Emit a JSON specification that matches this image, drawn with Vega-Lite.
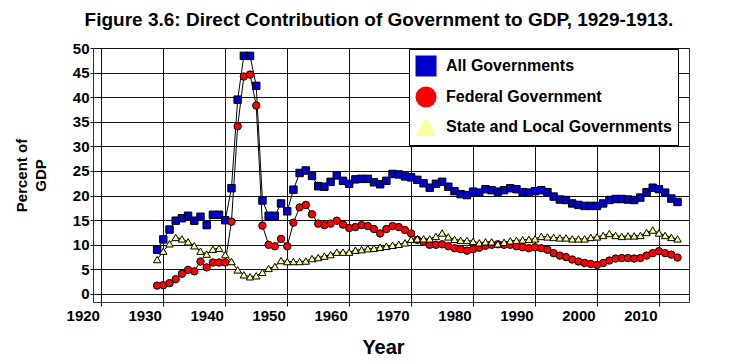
{
  "$schema": "https://vega.github.io/schema/vega-lite/v6.json",
  "width": 596,
  "height": 254,
  "autosize": {"type": "none"},
  "padding": {"left": 93, "top": 48, "right": 41, "bottom": 61},
  "background": "white",
  "title": {
    "text": "Figure 3.6: Direct Contribution of Government to GDP, 1929-1913.",
    "font": "Liberation Sans",
    "fontSize": 19,
    "fontWeight": "bold",
    "color": "black",
    "anchor": "middle",
    "baseline": "alphabetic",
    "offset": 14,
    "dx": -12,
    "dy": 18
  },
  "data": {
    "values": [
      {"year": 1929, "all": 9.0, "federal": 1.7, "stateLocal": 7.0},
      {"year": 1930, "all": 11.1, "federal": 1.8, "stateLocal": 8.7},
      {"year": 1931, "all": 13.1, "federal": 2.2, "stateLocal": 10.2},
      {"year": 1932, "all": 14.9, "federal": 3.0, "stateLocal": 11.5},
      {"year": 1933, "all": 15.4, "federal": 4.1, "stateLocal": 11.2},
      {"year": 1934, "all": 15.9, "federal": 4.9, "stateLocal": 10.6},
      {"year": 1935, "all": 14.9, "federal": 4.6, "stateLocal": 9.8},
      {"year": 1936, "all": 15.7, "federal": 6.6, "stateLocal": 8.7},
      {"year": 1937, "all": 14.0, "federal": 5.4, "stateLocal": 8.1},
      {"year": 1938, "all": 16.1, "federal": 6.4, "stateLocal": 9.1},
      {"year": 1939, "all": 16.1, "federal": 6.4, "stateLocal": 9.3},
      {"year": 1940, "all": 15.0, "federal": 6.4, "stateLocal": 8.0},
      {"year": 1941, "all": 21.5, "federal": 14.7, "stateLocal": 6.6},
      {"year": 1942, "all": 39.5, "federal": 34.1, "stateLocal": 4.9},
      {"year": 1943, "all": 48.4, "federal": 44.2, "stateLocal": 3.9},
      {"year": 1944, "all": 48.4, "federal": 44.6, "stateLocal": 3.5},
      {"year": 1945, "all": 42.3, "federal": 38.3, "stateLocal": 3.7},
      {"year": 1946, "all": 19.0, "federal": 13.9, "stateLocal": 4.4},
      {"year": 1947, "all": 15.9, "federal": 10.0, "stateLocal": 5.2},
      {"year": 1948, "all": 15.9, "federal": 9.7, "stateLocal": 5.6},
      {"year": 1949, "all": 18.4, "federal": 11.2, "stateLocal": 6.8},
      {"year": 1950, "all": 16.8, "federal": 9.7, "stateLocal": 6.6},
      {"year": 1951, "all": 21.2, "federal": 14.5, "stateLocal": 6.6},
      {"year": 1952, "all": 24.6, "federal": 17.6, "stateLocal": 6.6},
      {"year": 1953, "all": 25.1, "federal": 18.1, "stateLocal": 6.7},
      {"year": 1954, "all": 24.0, "federal": 16.2, "stateLocal": 7.2},
      {"year": 1955, "all": 21.9, "federal": 14.3, "stateLocal": 7.4},
      {"year": 1956, "all": 21.8, "federal": 14.0, "stateLocal": 7.7},
      {"year": 1957, "all": 22.8, "federal": 14.3, "stateLocal": 8.0},
      {"year": 1958, "all": 24.1, "federal": 14.9, "stateLocal": 8.5},
      {"year": 1959, "all": 23.0, "federal": 14.1, "stateLocal": 8.5},
      {"year": 1960, "all": 22.4, "federal": 13.4, "stateLocal": 8.5},
      {"year": 1961, "all": 23.3, "federal": 13.6, "stateLocal": 8.9},
      {"year": 1962, "all": 23.4, "federal": 14.0, "stateLocal": 9.0},
      {"year": 1963, "all": 23.4, "federal": 13.8, "stateLocal": 9.2},
      {"year": 1964, "all": 22.7, "federal": 13.2, "stateLocal": 9.3},
      {"year": 1965, "all": 22.3, "federal": 12.3, "stateLocal": 9.5},
      {"year": 1966, "all": 23.0, "federal": 13.2, "stateLocal": 9.7},
      {"year": 1967, "all": 24.4, "federal": 13.8, "stateLocal": 9.9},
      {"year": 1968, "all": 24.3, "federal": 13.6, "stateLocal": 10.1},
      {"year": 1969, "all": 23.9, "federal": 13.0, "stateLocal": 10.4},
      {"year": 1970, "all": 23.7, "federal": 12.3, "stateLocal": 11.1},
      {"year": 1971, "all": 23.2, "federal": 11.0, "stateLocal": 11.2},
      {"year": 1972, "all": 22.5, "federal": 10.6, "stateLocal": 11.2},
      {"year": 1973, "all": 21.6, "federal": 10.0, "stateLocal": 11.2},
      {"year": 1974, "all": 22.4, "federal": 10.0, "stateLocal": 11.7},
      {"year": 1975, "all": 22.8, "federal": 10.1, "stateLocal": 12.4},
      {"year": 1976, "all": 21.8, "federal": 9.7, "stateLocal": 11.6},
      {"year": 1977, "all": 20.9, "federal": 9.3, "stateLocal": 11.1},
      {"year": 1978, "all": 20.3, "federal": 9.1, "stateLocal": 10.9},
      {"year": 1979, "all": 20.1, "federal": 8.8, "stateLocal": 10.9},
      {"year": 1980, "all": 20.8, "federal": 9.1, "stateLocal": 10.7},
      {"year": 1981, "all": 20.6, "federal": 9.4, "stateLocal": 10.4},
      {"year": 1982, "all": 21.3, "federal": 9.8, "stateLocal": 10.6},
      {"year": 1983, "all": 21.1, "federal": 10.0, "stateLocal": 10.6},
      {"year": 1984, "all": 20.8, "federal": 10.1, "stateLocal": 10.2},
      {"year": 1985, "all": 21.1, "federal": 10.0, "stateLocal": 10.5},
      {"year": 1986, "all": 21.5, "federal": 10.0, "stateLocal": 10.8},
      {"year": 1987, "all": 21.3, "federal": 9.7, "stateLocal": 10.9},
      {"year": 1988, "all": 20.7, "federal": 9.5, "stateLocal": 11.0},
      {"year": 1989, "all": 20.6, "federal": 9.3, "stateLocal": 11.1},
      {"year": 1990, "all": 20.9, "federal": 9.5, "stateLocal": 11.2},
      {"year": 1991, "all": 21.1, "federal": 9.3, "stateLocal": 11.7},
      {"year": 1992, "all": 20.7, "federal": 9.0, "stateLocal": 11.6},
      {"year": 1993, "all": 19.8, "federal": 8.3, "stateLocal": 11.5},
      {"year": 1994, "all": 19.2, "federal": 7.8, "stateLocal": 11.4},
      {"year": 1995, "all": 19.1, "federal": 7.5, "stateLocal": 11.4},
      {"year": 1996, "all": 18.4, "federal": 7.0, "stateLocal": 11.2},
      {"year": 1997, "all": 18.1, "federal": 6.6, "stateLocal": 11.2},
      {"year": 1998, "all": 17.9, "federal": 6.3, "stateLocal": 11.2},
      {"year": 1999, "all": 17.9, "federal": 6.1, "stateLocal": 11.5},
      {"year": 2000, "all": 17.9, "federal": 5.9, "stateLocal": 11.6},
      {"year": 2001, "all": 18.4, "federal": 6.3, "stateLocal": 11.9},
      {"year": 2002, "all": 19.1, "federal": 6.8, "stateLocal": 12.3},
      {"year": 2003, "all": 19.3, "federal": 7.2, "stateLocal": 11.9},
      {"year": 2004, "all": 19.3, "federal": 7.3, "stateLocal": 11.7},
      {"year": 2005, "all": 19.2, "federal": 7.3, "stateLocal": 11.8},
      {"year": 2006, "all": 19.1, "federal": 7.2, "stateLocal": 11.8},
      {"year": 2007, "all": 19.6, "federal": 7.3, "stateLocal": 11.9},
      {"year": 2008, "all": 20.7, "federal": 7.8, "stateLocal": 12.5},
      {"year": 2009, "all": 21.6, "federal": 8.3, "stateLocal": 13.0},
      {"year": 2010, "all": 21.3, "federal": 8.7, "stateLocal": 12.4},
      {"year": 2011, "all": 20.6, "federal": 8.3, "stateLocal": 11.9},
      {"year": 2012, "all": 19.4, "federal": 8.0, "stateLocal": 11.5},
      {"year": 2013, "all": 18.7, "federal": 7.4, "stateLocal": 11.2}
    ]
  },
  "transform": [{"fold": ["all", "federal", "stateLocal"], "as": ["series", "value"]}],
  "encoding": {
    "x": {
      "field": "year",
      "type": "quantitative",
      "scale": {"domain": [1918.65, 2014.85], "nice": false, "zero": false},
      "axis": {
        "values": [1920, 1930, 1940, 1950, 1960, 1970, 1980, 1990, 2000, 2010],
        "format": "d",
        "grid": true,
        "gridColor": "#111111",
        "gridWidth": 1,
        "gridOpacity": 1,
        "domain": false,
        "ticks": true,
        "tickSize": 4,
        "tickColor": "#111111",
        "labelOffset": -18.6,
        "labelPadding": 2,
        "labelFlush": false,
        "labelOverlap": false,
        "labelFont": "Liberation Sans",
        "labelFontSize": 15,
        "labelFontWeight": "bold",
        "labelColor": "black",
        "title": "Year",
        "titleFont": "Liberation Sans",
        "titleFontSize": 20,
        "titleFontWeight": "bold",
        "titleColor": "black",
        "titleX": 290,
        "titleY": 35,
        "titleBaseline": "top"
      }
    },
    "y": {
      "field": "value",
      "type": "quantitative",
      "scale": {"domain": [-1.63, 50], "nice": false, "zero": false},
      "axis": {
        "values": [0, 5, 10, 15, 20, 25, 30, 35, 40, 45, 50],
        "grid": true,
        "gridColor": "#111111",
        "gridWidth": 1,
        "gridOpacity": 1,
        "domain": false,
        "tickSize": 3,
        "tickColor": "#111111",
        "labelPadding": 1,
        "labelFlush": false,
        "labelOverlap": false,
        "labelFont": "Liberation Sans",
        "labelFontSize": 15,
        "labelFontWeight": "bold",
        "labelColor": "black",
        "title": ["Percent of", "GDP"],
        "titleFont": "Liberation Sans",
        "titleFontSize": 15,
        "titleFontWeight": "bold",
        "titleColor": "black",
        "titleLineHeight": 19,
        "titleAngle": -90,
        "titleAlign": "center",
        "titleBaseline": "top",
        "titleX": -79,
        "titleY": 127
      }
    }
  },
  "layer": [
    {
      "mark": {"type": "line", "color": "black", "strokeWidth": 1},
      "encoding": {"detail": {"field": "series"}}
    },
    {
      "mark": {"type": "point", "filled": true, "size": 55, "stroke": "black", "strokeWidth": 1, "opacity": 1},
      "encoding": {
        "shape": {
          "field": "series",
          "type": "nominal",
          "scale": {"domain": ["all", "federal", "stateLocal"], "range": ["square", "circle", "triangle-up"]},
          "legend": {
            "title": null,
            "orient": "none",
            "legendX": 316,
            "legendY": 1,
            "padding": 6,
            "strokeColor": "black",
            "fillColor": "white",
            "symbolSize": 441,
            "symbolStrokeColor": "black",
            "symbolStrokeWidth": 1,
            "rowPadding": 5,
            "labelOffset": 9,
            "labelFont": "Liberation Sans",
            "labelFontSize": 16,
            "labelFontWeight": "bold",
            "labelColor": "black",
            "labelLimit": 400,
            "labelExpr": "datum.value == 'all' ? 'All Governments' : datum.value == 'federal' ? 'Federal Government' : 'State and Local Governments'",
            "encode": {"legend": {"update": {"strokeWidth": {"value": 3}}}}
          }
        },
        "fill": {
          "field": "series",
          "type": "nominal",
          "scale": {"domain": ["all", "federal", "stateLocal"], "range": ["#0000CC", "#FF0000", "#FFFF99"]},
          "legend": {
            "title": null,
            "orient": "none",
            "legendX": 316,
            "legendY": 1,
            "padding": 6,
            "strokeColor": "black",
            "fillColor": "white",
            "symbolSize": 441,
            "symbolStrokeColor": "black",
            "symbolStrokeWidth": 1,
            "rowPadding": 5,
            "labelOffset": 9,
            "labelFont": "Liberation Sans",
            "labelFontSize": 16,
            "labelFontWeight": "bold",
            "labelColor": "black",
            "labelLimit": 400,
            "labelExpr": "datum.value == 'all' ? 'All Governments' : datum.value == 'federal' ? 'Federal Government' : 'State and Local Governments'",
            "encode": {"legend": {"update": {"strokeWidth": {"value": 3}}}}
          }
        }
      }
    }
  ],
  "config": {
    "view": {"stroke": "#333333", "strokeWidth": 1}
  }
}
